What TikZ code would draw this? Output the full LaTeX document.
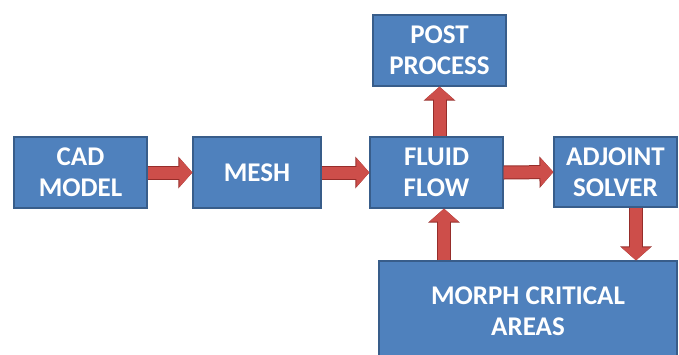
\documentclass[tikz,border=0pt]{standalone}
\usepackage{fontspec}
\setmainfont{Carlito}
\usepackage{tikz}
\usetikzlibrary{arrows.meta,positioning}
\definecolor{boxblue}{RGB}{79,129,189}
\definecolor{boxedge}{RGB}{56,93,138}
\definecolor{arrowred}{RGB}{205,78,74}
\definecolor{arrowedge}{RGB}{150,45,42}
\tikzset{stage/.style = {rectangle, fill=boxblue, draw=boxedge, line width=1.2pt, text=white, align=center, inner sep=0pt, font=\fontsize{27}{31}\selectfont\bfseries}}
\tikzset{fatarrow/.style = {arrowred, line width=12pt, -{Triangle[width=28pt,length=13pt]}, preaction={draw=arrowedge, line width=14pt, -{Triangle[width=31pt,length=14pt]}}}}

\begin{document}
\begin{tikzpicture}[x=1pt,y=-1pt]
	\useasboundingbox (0,0) rectangle (679,354);
	\node[stage, minimum width=133pt, minimum height=71pt] (cad) at (80.5,172.5) {CAD\\MODEL};
	\node[stage, minimum width=128pt, minimum height=71pt] (mesh) at (257,172.5) {MESH};
	\node[stage, minimum width=133pt, minimum height=71pt] (fluid) at (436.5,172.5) {FLUID\\FLOW};
	\node[stage, minimum width=133pt, minimum height=71pt] (post) at (439.5,50.5) {POST\\PROCESS};
	\node[stage, minimum width=123pt, minimum height=70pt] (adjoint) at (615.5,172) {ADJOINT\\SOLVER};
	\node[stage, minimum width=298pt, minimum height=100pt] (morph) at (528,311) {MORPH CRITICAL\\AREAS};
	% connectors
	\draw[fatarrow] (cad.east) -- (mesh.west);
	\draw[fatarrow] (mesh.east) -- (fluid.west);
	\draw[fatarrow] (fluid.east) -- (adjoint.west);
	\draw[fatarrow] (post.south |- fluid.north) -- (post.south);
	\draw[fatarrow] ([xshift=7.5pt]fluid.south |- morph.north) -- ([xshift=7.5pt]fluid.south);
	\draw[fatarrow] ([xshift=20.5pt]adjoint.south) -- ([xshift=20.5pt]adjoint.south |- morph.north);
\end{tikzpicture}
\end{document}
